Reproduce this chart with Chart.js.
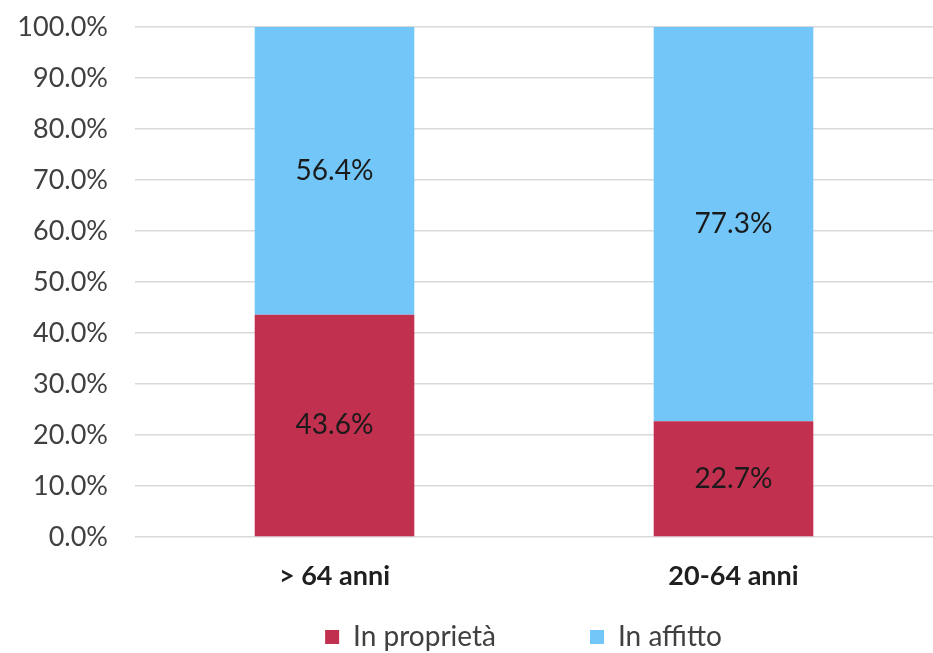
<!DOCTYPE html>
<html>
<head>
<meta charset="utf-8">
<script src="https://cdn.jsdelivr.net/npm/chart.js@4"></script>
<style>
  html, body { margin: 0; padding: 0; background: #ffffff; }
  #wrap { width: 933px; height: 653px; position: relative; }
</style>
</head>
<body>
<div id="wrap"><canvas id="c" width="933" height="653"></canvas></div>
<script>
const categories = ['> 64 anni', '20-64 anni'];
const seriesNames = ['In proprietà', 'In affitto'];
const proprieta = [43.6, 22.7];
const affitto = [56.4, 77.3];
const yTicks = [0, 10, 20, 30, 40, 50, 60, 70, 80, 90, 100];

const FONT = 'Lato, "Open Sans", sans-serif';

const valueLabels = {
  id: 'valueLabels',
  afterDatasetsDraw(chart) {
    const ctx = chart.ctx;
    ctx.save();
    ctx.font = '28px ' + FONT;
    ctx.fillStyle = '#1a1a1a';
    ctx.textAlign = 'center';
    ctx.textBaseline = 'middle';
    chart.data.datasets.forEach((ds, di) => {
      const meta = chart.getDatasetMeta(di);
      meta.data.forEach((el, i) => {
        const p = el.getProps(['x', 'y', 'base'], true);
        ctx.fillText(ds.data[i].toFixed(1) + '%', p.x, (p.y + p.base) / 2);
      });
    });
    ctx.restore();
  }
};

new Chart(document.getElementById('c'), {
  type: 'bar',
  data: {
    labels: categories,
    datasets: [
      { label: seriesNames[0] + '\u2003\u2003\u2003\u2003', data: proprieta, backgroundColor: '#C1304F',
        barPercentage: 0.4, categoryPercentage: 1.0 },
      { label: seriesNames[1] + '\u2003', data: affitto, backgroundColor: '#73C6F8',
        barPercentage: 0.4, categoryPercentage: 1.0 }
    ]
  },
  options: {
    responsive: false,
    animation: false,
    layout: { padding: { top: 27, right: -2, bottom: -8, left: 0 } },
    plugins: {
      legend: {
        position: 'bottom',
        fullSize: false,
        labels: {
          boxWidth: 14, boxHeight: 14, padding: 10,
          color: '#404040',
          font: { family: FONT, size: 28 }
        }
      },
      tooltip: { enabled: false }
    },
    scales: {
      x: {
        stacked: true,
        grid: { display: false },
        border: { display: false },
        ticks: { color: '#1f1f1f', font: { family: FONT, size: 27, weight: 'bold' }, padding: 15 },
        afterFit: (s) => { s.height = 76; }
      },
      y: {
        stacked: true,
        min: 0, max: 100,
        afterBuildTicks: (s) => { s.ticks = yTicks.map(v => ({ value: v })); },
        grid: { color: '#d9d9d9', lineWidth: 1.5, drawTicks: true, tickLength: 27, tickColor: 'rgba(0,0,0,0)' },
        border: { display: false },
        ticks: {
          color: '#404040', padding: 0,
          font: { family: FONT, size: 27 },
          callback: (v) => Number(v).toFixed(1) + '%'
        },
        afterFit: (s) => { s.width = 135; }
      }
    }
  },
  plugins: [valueLabels]
});
</script>
</body>
</html>
